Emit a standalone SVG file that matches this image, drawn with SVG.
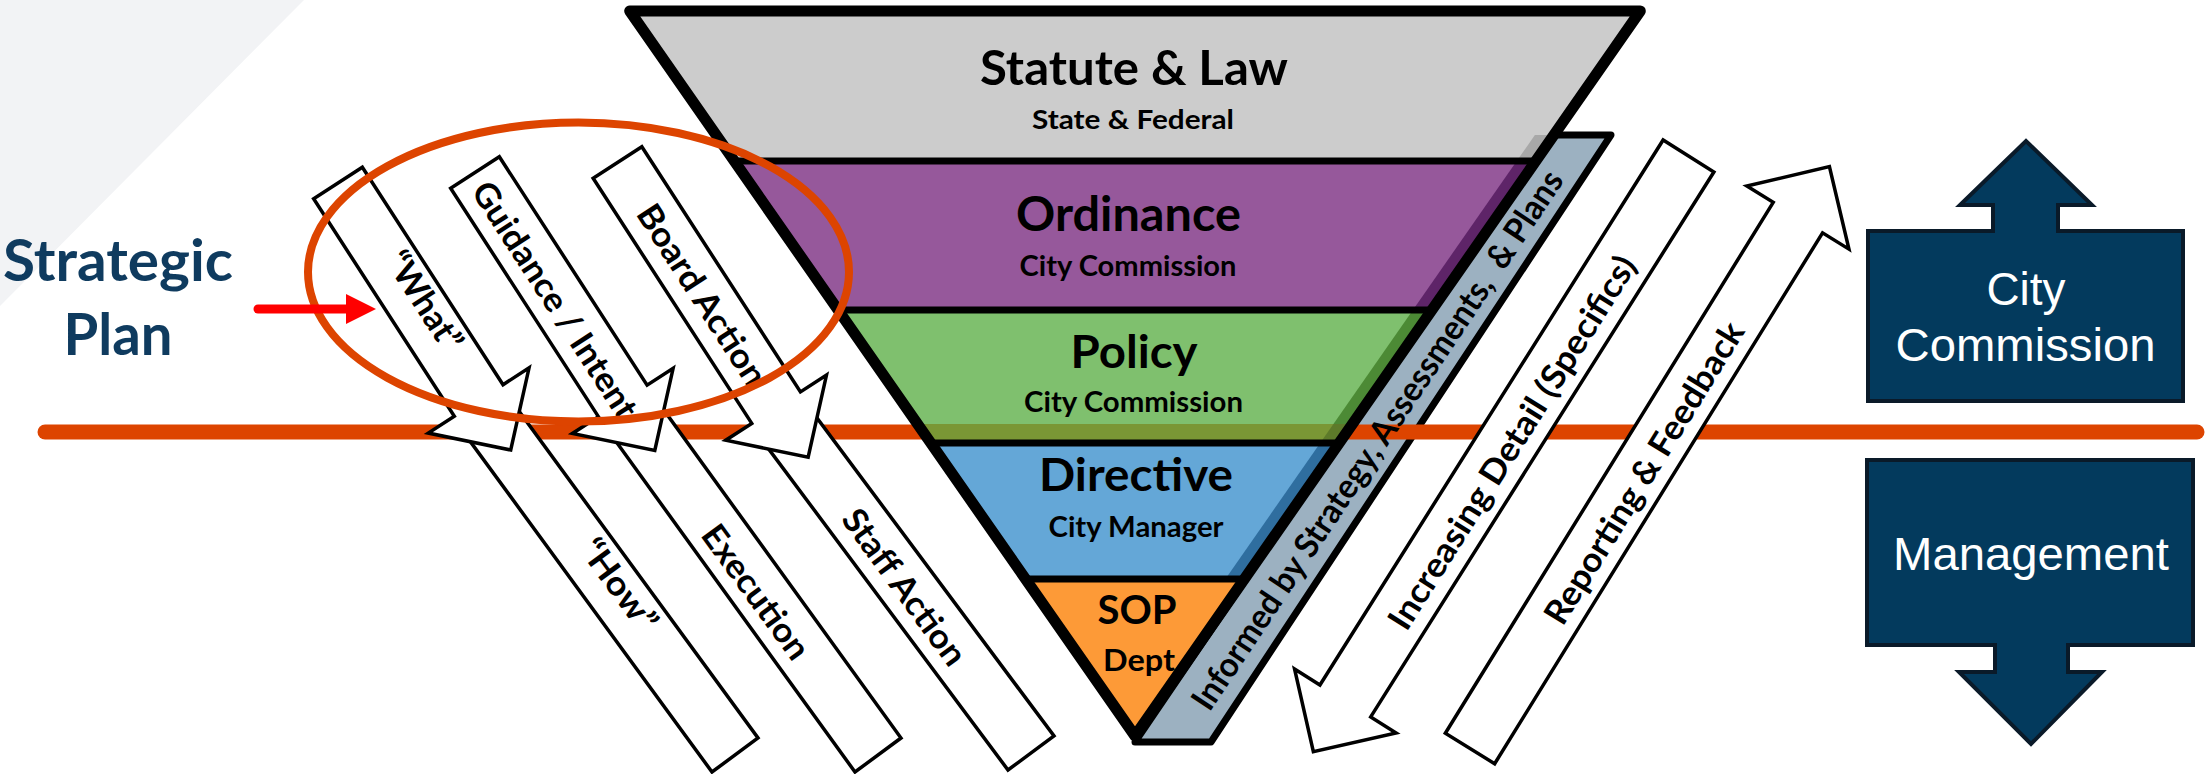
<svg xmlns="http://www.w3.org/2000/svg" width="2205" height="774" viewBox="0 0 2205 774">
<style>
.arrow{fill:#fff;stroke:#000;stroke-width:3.5;stroke-linejoin:miter}
.lbl{font-family:Lato,'Open Sans','Liberation Sans',sans-serif;font-weight:bold;font-size:34px;fill:#000;text-anchor:middle}
.ttl{font-family:Lato,'Open Sans','Liberation Sans',sans-serif;font-weight:bold;fill:#000;text-anchor:middle}
.box{fill:#033a5d;stroke:#0a1a29;stroke-width:4;stroke-linejoin:miter}
.boxt{font-family:'Liberation Sans',Arial,sans-serif;font-size:47px;fill:#fff;text-anchor:middle}
.div{stroke:#000;stroke-width:7}
.orange{stroke:#dd4400;fill:none}
</style>
<defs>
<clipPath id="sliverClip"><polygon points="1534.9,135 1553.9,135 1246.5,576 1227.5,576"/></clipPath>
</defs>
<rect width="2205" height="774" fill="#fff"/>
<polygon points="0,0 304,0 0,306" fill="#f2f3f5"/>

<g id="strip">
<polygon points="1548,135 1611,135 1211,742 1135,742" fill="#9cb1c1" stroke="#000" stroke-width="7" stroke-linejoin="round"/>
</g>

<g id="connectors">
<line id="divider-line" class="orange" x1="45" y1="432" x2="2197" y2="432" stroke-width="15" stroke-linecap="round"/>
</g>

<g id="funnel">
<polygon points="629.7,11 1640.3,11 1535.8,161 734.2,161" fill="#cccccc"/>
<polygon points="734.2,161 1535.8,161 1431.9,310 838.1,310" fill="#96589b"/>
<polygon points="838.1,310 1431.9,310 1339.2,443 930.8,443" fill="#7fc06e"/>
<polygon points="917.5,424 1352.5,424 1341.3,440 928.7,440" fill="#7a9735"/>
<polygon points="930.8,443 1339.2,443 1244.4,579 1025.6,579" fill="#64a7d7"/>
<polygon points="1025.6,579 1244.4,579 1135,736" fill="#fd9a37"/>
<g clip-path="url(#sliverClip)">
<rect x="1200" y="135" width="400" height="26" fill="#a8a8a8"/>
<rect x="1200" y="161" width="400" height="149" fill="#5e2468"/>
<rect x="1200" y="310" width="400" height="114" fill="#4c8a35"/>
<rect x="1200" y="424" width="400" height="16" fill="#5d7a2a"/>
<rect x="1200" y="440" width="400" height="139" fill="#2f6e9f"/>
</g>
<line class="div" x1="734.2" y1="161" x2="1535.8" y2="161"/>
<line class="div" x1="838.1" y1="310" x2="1431.9" y2="310"/>
<line class="div" x1="930.8" y1="443" x2="1339.2" y2="443"/>
<line class="div" x1="1025.6" y1="579" x2="1244.4" y2="579"/>
<polygon points="629.7,11 1640.3,11 1135,736" fill="none" stroke="#000" stroke-width="11" stroke-linejoin="round"/>
<text class="ttl" x="1134" y="85" font-size="47" textLength="308" lengthAdjust="spacingAndGlyphs">Statute &amp; Law</text>
<text class="ttl" x="1133" y="129" font-size="27" textLength="202" lengthAdjust="spacingAndGlyphs">State &amp; Federal</text>
<text class="ttl" x="1128.5" y="230.5" font-size="47" textLength="225" lengthAdjust="spacingAndGlyphs">Ordinance</text>
<text class="ttl" x="1128" y="276" font-size="28" textLength="217" lengthAdjust="spacingAndGlyphs">City Commission</text>
<text class="ttl" x="1134" y="368" font-size="46" textLength="127" lengthAdjust="spacingAndGlyphs">Policy</text>
<text class="ttl" x="1133.5" y="412" font-size="28" textLength="219" lengthAdjust="spacingAndGlyphs">City Commission</text>
<text class="ttl" x="1136" y="491" font-size="46" textLength="194" lengthAdjust="spacingAndGlyphs">Directive</text>
<text class="ttl" x="1136" y="537" font-size="28" textLength="175" lengthAdjust="spacingAndGlyphs">City Manager</text>
<text class="ttl" x="1137" y="624" font-size="40" textLength="79" lengthAdjust="spacingAndGlyphs">SOP</text>
<text class="ttl" x="1139" y="671" font-size="30" textLength="72" lengthAdjust="spacingAndGlyphs">Dept</text>
</g>

<g id="strip-label">
<text class="lbl" xml:space="preserve" style="white-space:pre" font-size="31" transform="translate(1378,440.5) rotate(-56.3)" y="11" textLength="640" lengthAdjust="spacingAndGlyphs">Informed by Strategy, Assessments,  &amp; Plans</text>
</g>

<g id="how">
<polygon class="arrow" points="467,437 513,403 758,738 712,772"/>
<text class="lbl" transform="translate(619,585) rotate(53.8)" y="12" textLength="106" lengthAdjust="spacingAndGlyphs">“How”</text>
</g>
<g id="execution">
<polygon class="arrow" points="612,436 658,402 901,738 855,772"/>
<text class="lbl" transform="translate(756,592) rotate(53.8)" y="12" textLength="158" lengthAdjust="spacingAndGlyphs">Execution</text>
</g>
<g id="staff-action">
<polygon class="arrow" points="765,444 811,410 1054,736 1008,770"/>
<text class="lbl" transform="translate(904.5,587) rotate(53.8)" y="12" textLength="185" lengthAdjust="spacingAndGlyphs">Staff Action</text>
</g>

<g id="what">
<polygon class="arrow" transform="translate(338,183) rotate(57.1)" points="0,-29 259,-29 259,-60 318,0 259,60 259,29 0,29"/>
<text class="lbl" transform="translate(424.5,301) rotate(57.1)" y="12" textLength="112" lengthAdjust="spacingAndGlyphs">“What”</text>
</g>
<g id="guidance">
<polygon class="arrow" transform="translate(475,172.5) rotate(57.1)" points="0,-29 272,-29 272,-60 331,0 272,60 272,29 0,29"/>
<text class="lbl" transform="translate(555,300) rotate(57.1)" y="12" textLength="275" lengthAdjust="spacingAndGlyphs">Guidance / Intent</text>
</g>
<g id="board-action">
<polygon class="arrow" transform="translate(617.5,162.5) rotate(57.1)" points="0,-29 292,-29 292,-60 351,0 292,60 292,29 0,29"/>
<text class="lbl" transform="translate(702,295) rotate(57.1)" y="12" textLength="209" lengthAdjust="spacingAndGlyphs">Board Action</text>
</g>

<g id="increasing-detail">
<polygon class="arrow" transform="translate(1688.5,156) rotate(122.2)" points="0,-30 644,-30 644,-60 704,0 644,60 644,30 0,30"/>
<text class="lbl" transform="translate(1512,442.5) rotate(-57.8)" y="12" textLength="434" lengthAdjust="spacingAndGlyphs">Increasing Detail (Specifics)</text>
</g>
<g id="reporting-feedback">
<polygon class="arrow" transform="translate(1470,748.5) rotate(-58.3)" points="0,-29 624,-29 624,-60 684,0 624,60 624,29 0,29"/>
<text class="lbl" transform="translate(1644,473) rotate(-58.3)" y="12" textLength="348" lengthAdjust="spacingAndGlyphs">Reporting &amp; Feedback</text>
</g>

<g id="city-commission-box">
<polygon class="box" points="1868,231 1993,231 1993,205 1960,205 2026,141 2092,205 2058,205 2058,231 2183,231 2183,401 1868,401"/>
<text class="boxt" x="2026" y="305" textLength="79" lengthAdjust="spacingAndGlyphs">City</text>
<text class="boxt" x="2025.5" y="361" textLength="260" lengthAdjust="spacingAndGlyphs">Commission</text>
</g>
<g id="management-box">
<polygon class="box" points="1867,460 2193,460 2193,645 2068,645 2068,672 2102,672 2031,744 1959,672 1995,672 1995,645 1867,645"/>
<text class="boxt" x="2031" y="570" textLength="276" lengthAdjust="spacingAndGlyphs">Management</text>
</g>

<g id="highlight-ellipse">
<ellipse class="orange" cx="578.5" cy="272" rx="270.5" ry="149.5" stroke-width="8"/>
</g>

<g id="strategic-plan">
<line x1="258" y1="309" x2="350" y2="309" stroke="#ff0000" stroke-width="9" stroke-linecap="round"/>
<polygon points="346,294 376,309 346,324" fill="#ff0000"/>
<text class="ttl" x="118" y="281" font-size="58" style="fill:#0f3b5f" textLength="230" lengthAdjust="spacingAndGlyphs">Strategic</text>
<text class="ttl" x="118" y="355" font-size="58" style="fill:#0f3b5f" textLength="109" lengthAdjust="spacingAndGlyphs">Plan</text>
</g>
</svg>
